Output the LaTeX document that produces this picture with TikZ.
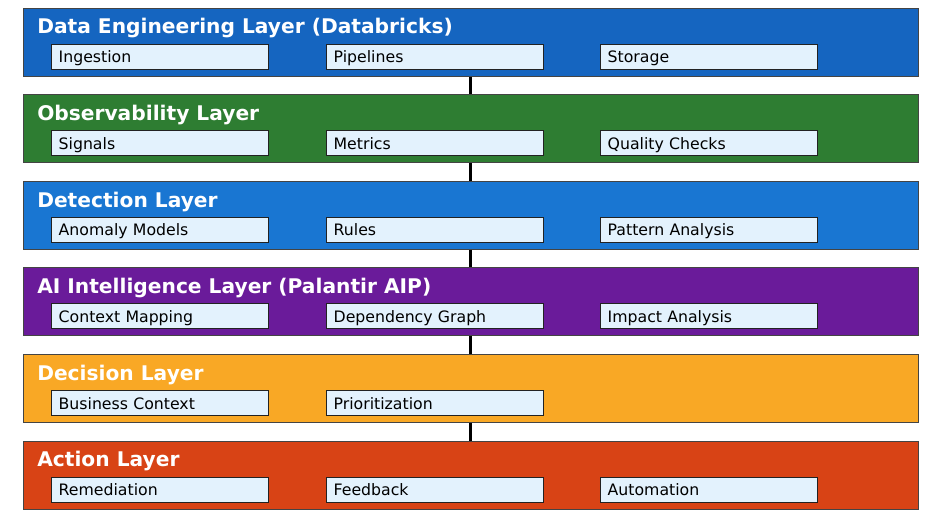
\documentclass[tikz,border=0pt]{standalone}
\usepackage{fontspec}
\setmainfont{DejaVu Sans}
\definecolor{cA}{HTML}{1565C0}
\definecolor{cB}{HTML}{2E7D32}
\definecolor{cC}{HTML}{1976D2}
\definecolor{cD}{HTML}{6A1B9A}
\definecolor{cE}{HTML}{F9A825}
\definecolor{cF}{HTML}{D84315}
\definecolor{subfill}{HTML}{E3F2FD}
\definecolor{bandline}{HTML}{444444}
\definecolor{subline}{HTML}{222222}
\begin{document}
\begin{tikzpicture}[x=0.75pt,y=-0.75pt,
  band/.style={draw=bandline, line width=0.8pt, minimum width=671.25pt, minimum height=51pt, anchor=north west, inner sep=0pt},
  title/.style={anchor=base west, inner sep=0pt, text=white, font=\fontsize{15.15}{18}\selectfont\bfseries},
  sub/.style={draw=subline, fill=subfill, line width=0.75pt, minimum width=162.75pt, minimum height=18.75pt, text width=152pt, align=left, inner xsep=5.25pt, inner ysep=0pt, text height=9.3pt, text depth=0pt, font=\fontsize{11.8}{14}\selectfont, anchor=west},
  conn/.style={draw=black, line width=1.6pt}]
\useasboundingbox (0,0) rectangle (936,521);
\foreach \i/\c/\t/\a/\b/\d in {
  1/cA/{Data Engineering Layer (Databricks)}/Ingestion/Pipelines/Storage,
  2/cB/{Observability Layer}/Signals/Metrics/Quality Checks,
  3/cC/{Detection Layer}/Anomaly Models/Rules/Pattern Analysis,
  4/cD/{AI Intelligence Layer (Palantir AIP)}/Context Mapping/Dependency Graph/Impact Analysis,
  5/cE/{Decision Layer}/Business Context/Prioritization/,
  6/cF/{Action Layer}/Remediation/Feedback/Automation}{
  \pgfmathsetmacro{\top}{7.5+86.6*(\i-1)}
  \node[band, fill=\c] (L\i) at (22.5,\top) {};
  \node[title] (T\i) at (37,\top+26.3) {\t};
  \node[sub] (L\i a) at (51,\top+49) {\a};
  \node[sub] (L\i b) at (326,\top+49) {\b};
  \if\relax\detokenize\expandafter{\d}\relax\else
    \node[sub] (L\i c) at (600,\top+49) {\d};
  \fi
}
\foreach \i [evaluate=\i as \j using int(\i+1)] in {1,...,5}
  \draw[conn] (L\i.south) -- (L\j.north);
\end{tikzpicture}
\end{document}
